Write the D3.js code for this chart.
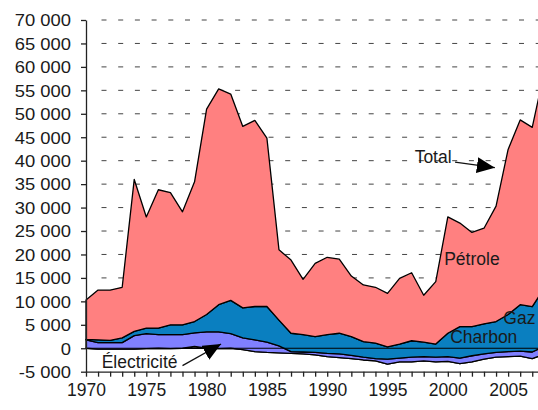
<!DOCTYPE html>
<html>
<head>
<meta charset="utf-8">
<script src="https://cdn.jsdelivr.net/npm/d3@7"></script>
<style>
  body { margin: 0; background: #fff; }
  svg { display: block; overflow: hidden; font-family: "Liberation Sans", Arial, sans-serif; }
</style>
</head>
<body>
<div id="chart"></div>
<script>
// facture energetique, millions d'euros
var years = [1970, 1971, 1972, 1973, 1974, 1975, 1976, 1977, 1978, 1979,
             1980, 1981, 1982, 1983, 1984, 1985, 1986, 1987, 1988, 1989,
             1990, 1991, 1992, 1993, 1994, 1995, 1996, 1997, 1998, 1999,
             2000, 2001, 2002, 2003, 2004, 2005, 2006, 2007, 2008];
var electricite = [0, -200, -200, -200, -200, -100, 0, -100, 0, 400,
                   0, -100, 0, -300, -700, -900, -1000, -1100, -1200, -1400,
                   -1800, -2000, -2200, -2500, -2700, -3400, -2900, -2900, -2700, -2900,
                   -2800, -3300, -2900, -2300, -1900, -1800, -1700, -2200, -1300];
var charbon = [1800, 1400, 1400, 1400, 2900, 3200, 2900, 3000, 2900, 2900,
               3500, 3600, 3100, 2500, 2500, 2200, 1500, 400, 400, 500,
               700, 800, 700, 600, 500, 1100, 800, 1000, 900, 1000,
               1000, 1200, 1300, 1100, 1000, 1100, 1100, 1400, 1700];
var gaz = [100, 600, 500, 1000, 900, 1200, 1400, 2100, 2100, 2400,
           3700, 5800, 7100, 6400, 7100, 7600, 5500, 3900, 3700, 3400,
           4000, 4400, 4000, 3300, 3300, 2600, 3000, 3500, 3100, 2800,
           5000, 6700, 6200, 6400, 6600, 7900, 9900, 9700, 12400];
var petrole = [8400, 10600, 10700, 10800, 32400, 23700, 29500, 28200, 24100, 29800,
               43800, 46000, 44000, 38700, 39700, 35900, 15000, 15600, 11800, 15600,
               16500, 15800, 12900, 12100, 11900, 11400, 14000, 14500, 10000, 13300,
               24800, 22100, 20100, 20400, 24600, 35200, 39400, 38200, 46200];
var yTicks = [-5000, 0, 5000, 10000, 15000, 20000, 25000, 30000, 35000,
              40000, 45000, 50000, 55000, 60000, 65000, 70000];

var keys = ["electricite", "charbon", "gaz", "petrole"];
var colors = {electricite: "#dcdcdc", charbon: "#8080ff", gaz: "#0a7fc0", petrole: "#ff8080"};

var W = 538, H = 410;
var svg = d3.select("#chart").append("svg")
    .attr("width", W)
    .attr("height", H);

var x = d3.scaleLinear().domain([1970, 2008]).range([86, 544.3]);
var y = d3.scaleLinear().domain([-5000, 70000]).range([371.7, 20]);

var fr = d3.formatLocale({decimal: ",", thousands: " ", grouping: [3], currency: ["", " €"], minus: "-"});
var fmt = fr.format(",");

// dashed grid
svg.append("g").selectAll("line")
    .data(yTicks.filter(function(d) { return d > 0; }))
    .enter().append("line")
    .attr("x1", 101.5)
    .attr("x2", W)
    .attr("y1", function(d) { return y(d); })
    .attr("y2", function(d) { return y(d); })
    .style("stroke", "#444")
    .style("stroke-width", "1px")
    .style("stroke-dasharray", "5,11.7");

var table = years.map(function(yr, i) {
  return {year: yr, electricite: electricite[i], charbon: charbon[i], gaz: gaz[i], petrole: petrole[i]};
});
var series = d3.stack().keys(keys).offset(d3.stackOffsetNone)(table);

var area = d3.area()
    .x(function(d) { return x(d.data.year); })
    .y0(function(d) { return y(d[0]); })
    .y1(function(d) { return y(d[1]); });

svg.append("g").selectAll("path")
    .data(series)
    .enter().append("path")
    .attr("d", area)
    .style("fill", function(d) { return colors[d.key]; })
    .style("stroke", "#000")
    .style("stroke-width", "1.3px")
    .style("stroke-linejoin", "round");

// zero line
svg.append("line")
    .attr("x1", x(1970)).attr("x2", W)
    .attr("y1", y(0)).attr("y2", y(0))
    .style("stroke", "#000")
    .style("stroke-width", "1.2px");

// y axis
var yAxis = svg.append("g")
    .attr("transform", "translate(" + x(1970) + ",0)")
    .call(d3.axisLeft(y).tickValues(yTicks).tickSize(5).tickSizeOuter(0).tickFormat(fmt));
yAxis.select(".domain").style("stroke", "#222").style("stroke-width", "1.3px");
yAxis.selectAll(".tick line").style("stroke", "#222").style("stroke-width", "1.3px");
yAxis.selectAll(".tick text")
    .attr("x", -13.3)
    .attr("dy", "0.36em")
    .attr("transform", "scale(1.13,1)")
    .style("font-size", "16.3px")
    .style("fill", "#1a1a1a")
    .style("font-family", "'Liberation Sans', Arial, sans-serif");

// x axis at -5000
var xAxis = svg.append("g")
    .attr("transform", "translate(0," + y(-5000) + ")")
    .call(d3.axisBottom(x).tickValues(years).tickSize(5).tickSizeOuter(0)
      .tickFormat(function(d) { return d % 5 === 0 ? String(d) : ""; }));
xAxis.select(".domain").style("stroke", "#222").style("stroke-width", "1.3px");
xAxis.selectAll(".tick line").style("stroke", "#222").style("stroke-width", "1.3px");
xAxis.selectAll(".tick text")
    .attr("y", 12)
    .style("font-size", "17.5px")
    .style("fill", "#1a1a1a")
    .style("font-family", "'Liberation Sans', Arial, sans-serif");

// annotations
var defs = svg.append("defs");
defs.append("marker")
    .attr("id", "arrowBlack")
    .attr("markerUnits", "userSpaceOnUse")
    .attr("viewBox", "0 0 18 16")
    .attr("refX", 18).attr("refY", 8)
    .attr("markerWidth", 18).attr("markerHeight", 16)
    .attr("orient", "auto")
    .append("path")
    .attr("d", "M0,0L18,8L0,16Z")
    .style("fill", "#000");

var labels = [
  {text: "Total", year: 1997.25, value: 39400},
  {text: "Pétrole", year: 1999.7, value: 17800},
  {text: "Gaz", year: 2004.6, value: 5200},
  {text: "Charbon", year: 2000.2, value: 1100},
  {text: "Électricité", year: 1971.3, value: -4250}
];
svg.append("g").selectAll("text")
    .data(labels)
    .enter().append("text")
    .attr("x", function(d) { return x(d.year); })
    .attr("y", function(d) { return y(d.value); })
    .style("font-size", "17.5px")
    .style("fill", "#1a1a1a")
    .text(function(d) { return d.text; });

var arrows = [
  {x1: 2000.6, v1: 39700, x2: 2003.9, v2: 38500},
  {x1: 1978.0, v1: -3700, x2: 1981.2, v2: 900}
];
svg.append("g").selectAll("line")
    .data(arrows)
    .enter().append("line")
    .attr("x1", function(d) { return x(d.x1); })
    .attr("y1", function(d) { return y(d.v1); })
    .attr("x2", function(d) { return x(d.x2); })
    .attr("y2", function(d) { return y(d.v2); })
    .attr("marker-end", "url(#arrowBlack)")
    .style("stroke", "#111")
    .style("stroke-width", "1.3px");
</script>
</body>
</html>
